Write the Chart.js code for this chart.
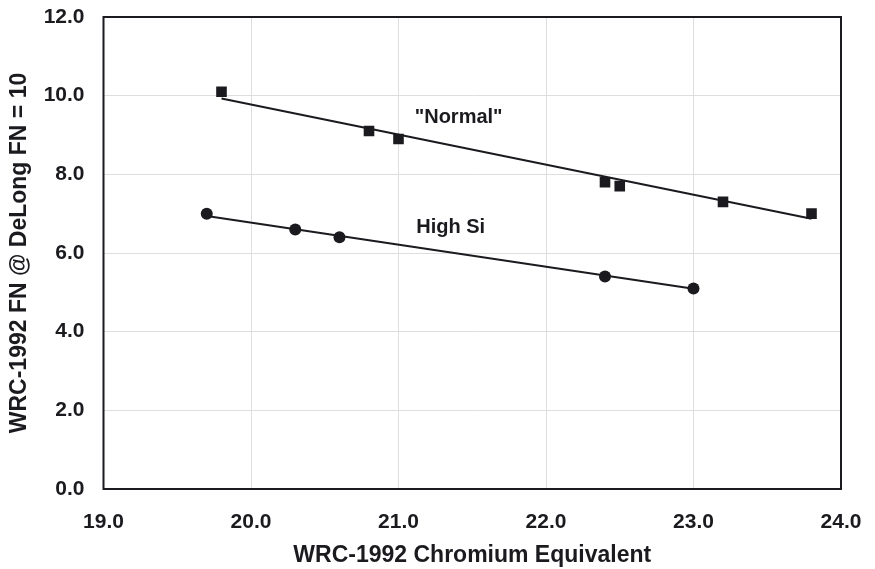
<!DOCTYPE html>
<html>
<head>
<meta charset="utf-8">
<script src="https://cdn.jsdelivr.net/npm/chart.js@4.4.1/dist/chart.umd.min.js"></script>
<style>
  html, body { margin: 0; padding: 0; background: #fff; }
  #wrap { width: 875px; height: 569px; }
</style>
</head>
<body>
<div id="wrap"><canvas id="fnChart"></canvas></div>
<script>
// "Normal" welds
var normalCr = [19.8, 20.8, 21.0, 22.4, 22.5, 23.2, 23.8];
var normalFN = [10.1, 9.1, 8.9, 7.8, 7.7, 7.3, 7.0];
// High Si welds
var highSiCr = [19.7, 20.3, 20.6, 22.4, 23.0];
var highSiFN = [7.0, 6.6, 6.4, 5.4, 5.1];
// fitted lines, end points
var normalFitCr = [19.8, 23.8];
var normalFitFN = [9.93, 6.87];
var highSiFitCr = [19.7, 23.0];
var highSiFitFN = [6.94, 5.09];
// in-plot labels, anchored at data coords (left / middle)
var seriesNames = ['"Normal"', 'High Si'];
var nameCr = [21.11, 21.12];
var nameFN = [9.45, 6.65];

var xTicks = [19, 20, 21, 22, 23, 24];
var yTicks = [0, 2, 4, 6, 8, 10, 12];

function pts(xs, ys) {
	var out = [];
	for (var i = 0; i < xs.length; i++) out.push({x: xs[i], y: ys[i]});
	return out;
}

var ink = '#1b1b1f';
var fontFam = '"Liberation Sans", Arial, sans-serif';

// frame + series names
var extras = {
	id: 'extras',
	afterDatasetsDraw: function(chart) {
		var c = chart.ctx, a = chart.chartArea;
		var sx = chart.scales.x, sy = chart.scales.y;
		c.save();
		c.strokeStyle = ink;
		c.lineWidth = 2;
		c.strokeRect(a.left, a.top, a.right - a.left, a.bottom - a.top);
		c.fillStyle = ink;
		c.font = 'bold 20px ' + fontFam;
		c.textAlign = 'left';
		c.textBaseline = 'middle';
		for (var i = 0; i < seriesNames.length; i++) {
			c.fillText(seriesNames[i], sx.getPixelForValue(nameCr[i]), sy.getPixelForValue(nameFN[i]));
		}
		c.restore();
	}
};

function noPad(s) {
	s.paddingTop = 0; s.paddingBottom = 0; s.paddingLeft = 0; s.paddingRight = 0;
}

var ctx = document.getElementById('fnChart');
var fnChart = new Chart(ctx, {
	type: 'scatter',
	data: {
		datasets: [
			{ label: 'Normal fit', data: pts(normalFitCr, normalFitFN), showLine: true, borderColor: ink, borderWidth: 2, pointRadius: 0 },
			{ label: 'High Si fit', data: pts(highSiFitCr, highSiFitFN), showLine: true, borderColor: ink, borderWidth: 2, pointRadius: 0 },
			{ label: 'Normal', data: pts(normalCr, normalFN), pointStyle: 'rect', pointRadius: 7.5, backgroundColor: ink, borderColor: ink, borderWidth: 0 },
			{ label: 'High Si', data: pts(highSiCr, highSiFN), pointStyle: 'circle', pointRadius: 6, backgroundColor: ink, borderColor: ink, borderWidth: 0 }
		]
	},
	options: {
		responsive: true,
		maintainAspectRatio: false,
		animation: false,
		layout: { padding: { top: 17, right: 34, left: 0, bottom: 0 } },
		plugins: { legend: { display: false }, tooltip: { enabled: false } },
		scales: {
			x: {
				type: 'linear', min: 19, max: 24,
				afterBuildTicks: function(s) { s.ticks = xTicks.map(function(v) { return {value: v}; }); },
				afterFit: function(s) { s.height = 80; noPad(s); },
				ticks: { color: ink, padding: 21, font: { family: fontFam, size: 21, weight: 'bold' },
					callback: function(v) { return Number(v).toFixed(1); } },
				grid: { color: '#dedede', lineWidth: 1, drawTicks: false },
				border: { display: false },
				title: { display: true, text: 'WRC-1992 Chromium Equivalent', color: ink,
					font: { family: fontFam, size: 23, weight: 'bold' }, padding: { top: 0, bottom: 0 } }
			},
			y: {
				type: 'linear', min: 0, max: 12,
				afterBuildTicks: function(s) { s.ticks = yTicks.map(function(v) { return {value: v}; }); },
				afterFit: function(s) { s.width = 103.5; noPad(s); },
				ticks: { color: ink, padding: 19, font: { family: fontFam, size: 21, weight: 'bold' },
					callback: function(v) { return Number(v).toFixed(1); } },
				grid: { color: '#dedede', lineWidth: 1, drawTicks: false },
				border: { display: false },
				title: { display: true, text: 'WRC-1992 FN @ DeLong FN = 10', color: ink,
					font: { family: fontFam, size: 23, weight: 'bold' }, padding: { top: 6, bottom: 0 } }
			}
		}
	},
	plugins: [extras]
});
</script>
</body>
</html>
